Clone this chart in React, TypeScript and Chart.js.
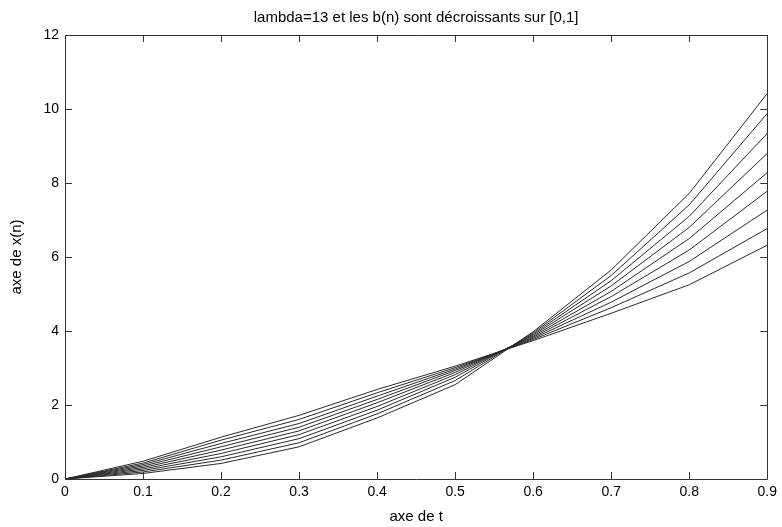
import React, { useEffect, useRef } from "react";
import { Chart, registerables } from "chart.js";

Chart.register(...registerables);

const tValues = [0, 0.1, 0.2, 0.3, 0.4, 0.5, 0.6, 0.7, 0.8, 0.9];
const xTicks = [0, 0.1, 0.2, 0.3, 0.4, 0.5, 0.6, 0.7, 0.8, 0.9];
const yTicks = [0, 2, 4, 6, 8, 10, 12];

const serie1 = [0, 0.15, 0.42, 0.87, 1.65, 2.55, 3.98, 5.65, 7.72, 10.42];
const serie2 = [0, 0.19, 0.51, 0.98, 1.76, 2.66, 3.95, 5.5, 7.41, 9.88];
const serie3 = [0, 0.23, 0.6, 1.09, 1.86, 2.75, 3.92, 5.36, 7.1, 9.34];
const serie4 = [0, 0.27, 0.69, 1.2, 1.96, 2.82, 3.89, 5.22, 6.8, 8.8];
const serie5 = [0, 0.31, 0.78, 1.3, 2.06, 2.88, 3.86, 5.07, 6.5, 8.28];
const serie6 = [0, 0.35, 0.87, 1.4, 2.15, 2.93, 3.83, 4.93, 6.19, 7.78];
const serie7 = [0, 0.39, 0.96, 1.5, 2.24, 2.97, 3.8, 4.78, 5.88, 7.27];
const serie8 = [0, 0.43, 1.05, 1.61, 2.33, 3.01, 3.77, 4.63, 5.57, 6.77];
const serie9 = [0, 0.48, 1.13, 1.72, 2.42, 3.05, 3.74, 4.48, 5.25, 6.32];

const allSeries = [serie1, serie2, serie3, serie4, serie5, serie6, serie7, serie8, serie9];

const titleText = "lambda=13 et les b(n) sont décroissants sur [0,1]";
const xTitle = "axe de t";
const yTitle = "axe de x(n)";

const FONT = "'Liberation Sans', Arial, sans-serif";

const framePlugin = {
  id: "matlabFrame",
  afterDatasetsDraw(chart: any) {
    const { ctx, chartArea } = chart;
    const { left, right, top, bottom } = chartArea;
    const xs = chart.scales.x;
    const ys = chart.scales.y;
    const L = 7;
    ctx.save();
    ctx.strokeStyle = "#333";
    ctx.lineWidth = 1;
    ctx.beginPath();
    ctx.rect(Math.round(left) + 0.5, Math.round(top) + 0.5, Math.round(right - left), Math.round(bottom - top));
    for (const v of xTicks) {
      const px = Math.round(xs.getPixelForValue(v)) + 0.5;
      ctx.moveTo(px, bottom);
      ctx.lineTo(px, bottom - L);
      ctx.moveTo(px, top);
      ctx.lineTo(px, top + L);
    }
    for (const v of yTicks) {
      const py = Math.round(ys.getPixelForValue(v)) + 0.5;
      ctx.moveTo(left, py);
      ctx.lineTo(left + L, py);
      ctx.moveTo(right, py);
      ctx.lineTo(right - L, py);
    }
    ctx.stroke();
    ctx.fillStyle = "#000";
    ctx.font = `15px ${FONT}`;
    ctx.textAlign = "center";
    ctx.textBaseline = "middle";
    ctx.fillText(titleText, (left + right) / 2, 18);
    ctx.restore();
  },
};

export default function App() {
  const ref = useRef<HTMLCanvasElement | null>(null);

  useEffect(() => {
    if (!ref.current) return;
    const chart = new Chart(ref.current, {
      type: "line",
      data: {
        datasets: allSeries.map((s, i) => ({
          label: "x" + (i + 1),
          data: tValues.map((t, j) => ({ x: t, y: s[j] })),
          borderColor: "#2a2a2a",
          borderWidth: 1,
          pointRadius: 0,
          fill: false,
          tension: 0,
        })),
      },
      options: {
        animation: false,
        responsive: false,
        devicePixelRatio: 1,
        layout: { padding: { top: 35, right: 13, bottom: 0, left: 0 } },
        plugins: {
          legend: { display: false },
          tooltip: { enabled: false },
          title: { display: false },
        },
        scales: {
          x: {
            type: "linear",
            min: 0,
            max: 0.9,
            afterBuildTicks: (scale: any) => {
              scale.ticks = xTicks.map((v) => ({ value: v }));
            },
            afterFit: (scale: any) => {
              scale.height = 48;
            },
            grid: { display: false, drawTicks: false },
            border: { display: false },
            ticks: {
              color: "#000",
              font: { family: FONT, size: 14 },
              padding: 5,
              maxRotation: 0,
              autoSkip: false,
              callback: (v: any) => String(Math.round(Number(v) * 10) / 10),
            },
            title: {
              display: true,
              text: xTitle,
              color: "#000",
              font: { family: FONT, size: 15 },
              padding: { top: 0, bottom: 1 },
            },
          },
          y: {
            type: "linear",
            min: 0,
            max: 12,
            afterBuildTicks: (scale: any) => {
              scale.ticks = yTicks.map((v) => ({ value: v }));
            },
            afterFit: (scale: any) => {
              scale.width = 65;
            },
            grid: { display: false, drawTicks: false },
            border: { display: false },
            ticks: {
              color: "#000",
              font: { family: FONT, size: 14 },
              padding: 6,
              autoSkip: false,
            },
            title: {
              display: true,
              text: yTitle,
              color: "#000",
              font: { family: FONT, size: 15 },
              padding: { top: 8, bottom: 0 },
            },
          },
        },
      },
      plugins: [framePlugin],
    });
    return () => chart.destroy();
  }, []);

  return (
    <div style={{ position: "fixed", left: 0, top: 0, width: 782, height: 527, background: "#fff" }}>
      <canvas ref={ref} width={782} height={527} style={{ width: 782, height: 527 }} />
    </div>
  );
}
